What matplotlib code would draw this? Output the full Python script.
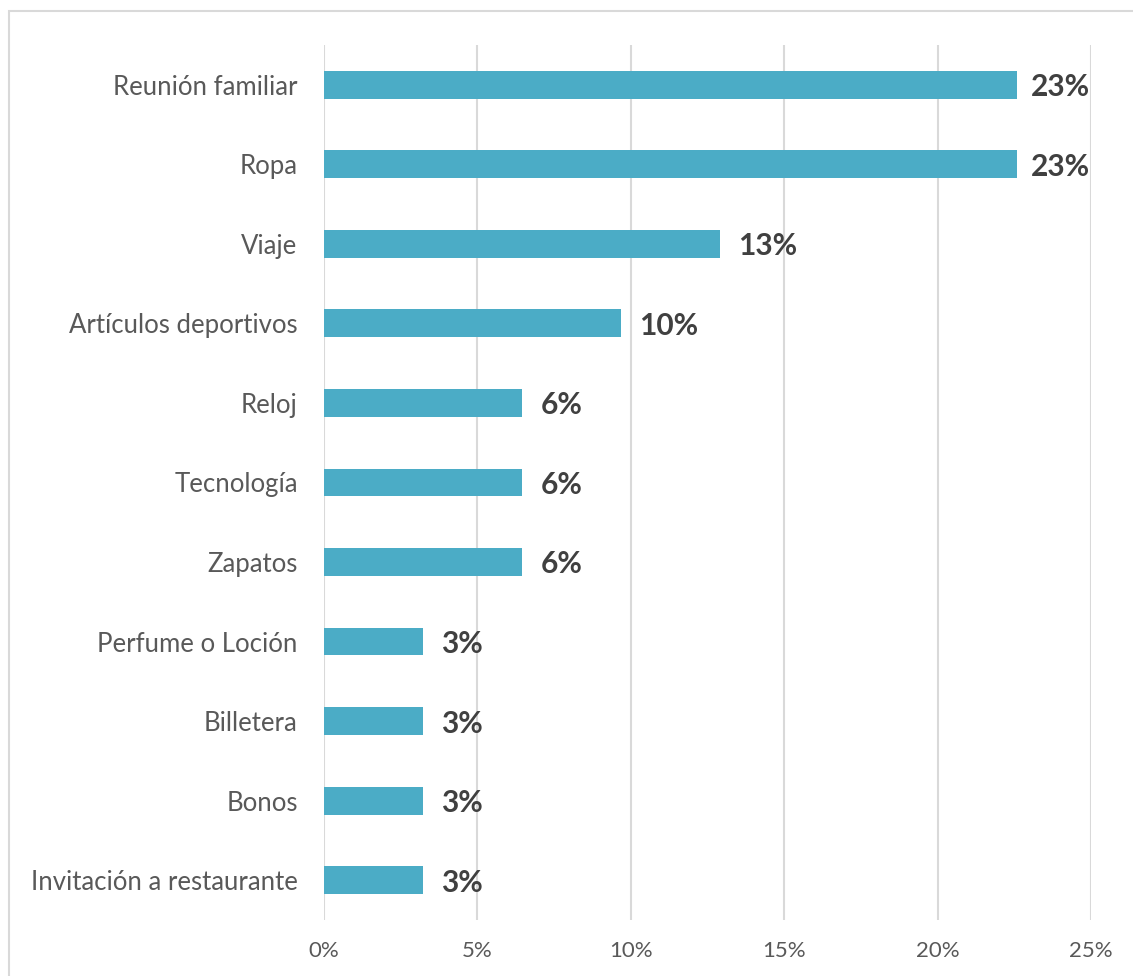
import matplotlib
matplotlib.use("Agg")
import matplotlib.pyplot as plt
from matplotlib.patches import Rectangle
from matplotlib.ticker import FuncFormatter

categories = ["Reunión familiar", "Ropa", "Viaje", "Artículos deportivos",
              "Reloj", "Tecnología", "Zapatos", "Perfume o Loción",
              "Billetera", "Bonos", "Invitación a restaurante"]
counts = [7, 7, 4, 3, 2, 2, 2, 1, 1, 1, 1]
total = sum(counts)
shares = [c / total for c in counts]
xticks = [0, 0.05, 0.10, 0.15, 0.20, 0.25]

BAR = "#4BACC6"
GRID = "#D9D9D9"
TXT = "#595959"

plt.rcParams["font.family"] = ["Lato", "DejaVu Sans"]

fig = plt.figure(figsize=(11.33, 9.76), dpi=100)
ax = fig.add_axes([0.286, 0.0574, 0.677, 0.8965])

y = list(range(len(categories)))
ax.barh(y, shares, height=0.35, color=BAR, zorder=3)
for yi, v in zip(y, shares):
    # labels near the right edge sit a little tighter, as in the original
    gap = 0.0045 if v > 0.2 else 0.006
    ax.text(v + gap, yi + 0.03, f"{v:.0%}", va="center", ha="left",
            fontsize=21.5, fontweight="bold", color="#404040", zorder=4)

ax.set_ylim(len(categories) - 0.5, -0.5)
ax.set_xlim(0, 0.25)
ax.set_yticks(y)
ax.set_yticklabels(categories, fontsize=18.5, color=TXT)
ax.set_xticks(xticks)
ax.xaxis.set_major_formatter(FuncFormatter(lambda v, p: f"{v:.0%}"))
ax.tick_params(axis="x", labelsize=16, labelcolor=TXT, length=0, pad=15)
ax.tick_params(axis="y", length=0, pad=19)
ax.grid(axis="x", color=GRID, linewidth=1.5, zorder=0)
for s in ax.spines.values():
    s.set_visible(False)

# outer chart border
fig.patches.append(Rectangle((9 / 1133, -0.01), 1.2, 1 - 11 / 976 + 0.01,
                             transform=fig.transFigure, fill=False,
                             edgecolor=GRID, linewidth=1.5))

fig.savefig("out.png", dpi=100)
